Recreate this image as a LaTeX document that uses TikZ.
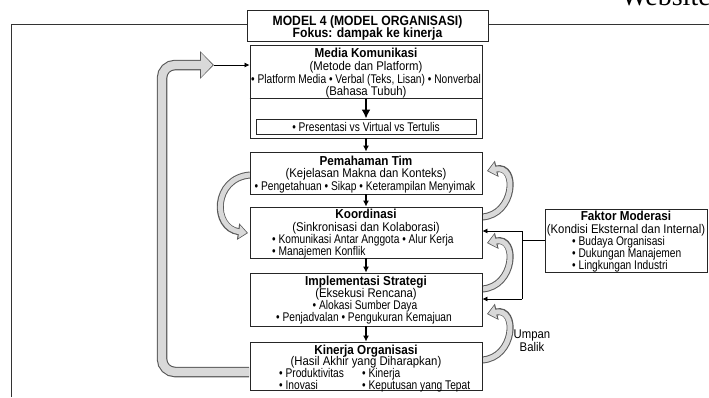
\documentclass[tikz,border=0pt]{standalone}
\usepackage{fontspec}
\setmainfont{Liberation Sans}[FakeStretch=0.9]
\newfontfamily\narrowfont{Liberation Sans}[FakeStretch=0.81]
\newfontfamily\webfont{Liberation Serif}
\usetikzlibrary{arrows.meta}
\newcommand\fsreg{\fontsize{12.6}{12}\selectfont}
\newcommand\fsnar{\narrowfont\fontsize{12.6}{12}\selectfont}
\newcommand\fsbold{\fontsize{13}{12}\selectfont\bfseries}
\newcommand\fstitle{\fontsize{13.5}{12}\selectfont\bfseries}
\tikzset{
  box/.style={draw=black!85, line width=0.9pt, fill=white, inner sep=0pt},
  sepline/.style={draw=black!85, line width=0.9pt},
  frameline/.style={draw=black!80, line width=0.9pt},
  t/.style={inner sep=0pt, text height=9pt, text depth=0pt, font=\fsreg},
  tn/.style={inner sep=0pt, text height=9pt, text depth=0pt, font=\fsnar},
  tb/.style={inner sep=0pt, text height=9pt, text depth=0pt, font=\fsbold},
  tt/.style={inner sep=0pt, text height=9pt, text depth=0pt, font=\fstitle},
  flow/.style={-{Latex[length=6pt,width=6pt]}, line width=1.1pt},
  bigflow/.style={-{Latex[length=9pt,width=9pt]}, line width=1.8pt},
  thinarrow/.style={-{Latex[length=5pt,width=5pt]}, line width=0.7pt},
  conn/.style={line width=0.7pt},
  bandout/.style={draw=black!65, line width=7pt, -{Triangle[width=16pt,length=10pt]}},
  bandin/.style={draw=black!15, line width=5pt, -{Triangle[width=12.5pt,length=7.6pt]}, shorten >=1.3pt},
  bigout/.style={draw=black!65, line width=10.5pt, rounded corners=13pt, -{Triangle[width=27pt,length=14pt]}},
  bigin/.style={draw=black!15, line width=8.3pt, rounded corners=13pt, -{Triangle[width=23.5pt,length=11.5pt]}, shorten >=1.4pt},
}
\newcommand\grayarrow[1]{\draw[bandout] #1; \draw[bandin] #1;}
\begin{document}
\begin{tikzpicture}[x=1pt,y=-1pt]
\useasboundingbox (0,0) rectangle (709,397);
\fill[white] (0,0) rectangle (709,397);

\node[anchor=base west, inner sep=0pt, font=\webfont\fontsize{28}{28}\selectfont] (web) at (621,5) {Website};

% outer frame
\draw[frameline] (11,397) -- (11,24) -- (709,24);

% big feedback arrow (drawn before boxes)
\draw[bigout] (249,372) -| (162,65) -- (214,65);
\draw[bigin] (249,372) -| (162,65) -- (214,65);

% curved gray arrows
\grayarrow{(482,217) .. controls (515,215) and (518,164) .. (487,171)}
\grayarrow{(482,289) .. controls (515,287) and (518,236) .. (487,243)}
\grayarrow{(482,360) .. controls (515,358) and (518,307) .. (487,314)}
\grayarrow{(250,175) .. controls (213,178) and (212,228) .. (248,233)}

% boxes
\node[box, minimum width=241pt, minimum height=31pt] (title) at (367.5,25.5) {};
\node[box, minimum width=232pt, minimum height=93pt] (med) at (366,91.5) {};
\draw[sepline] ([yshift=-54pt]med.north west) -- ([yshift=-54pt]med.north east);
\node[box, minimum width=220pt, minimum height=15pt] (inner) at (366,126.5) {};
\node[box, minimum width=232pt, minimum height=42pt] (pem) at (366,173) {};
\node[box, minimum width=232pt, minimum height=51pt] (koor) at (366,232.5) {};
\node[box, minimum width=232pt, minimum height=53pt] (impl) at (366,299.5) {};
\node[box, minimum width=232pt, minimum height=48pt] (kin) at (366,366) {};
\node[box, minimum width=162pt, minimum height=63pt] (fak) at (626,240.5) {};

% flow arrows
\draw[bigflow] ([yshift=-54pt]med.north) -- (inner.north);
\draw[flow] (med.south) -- (pem.north);
\draw[flow] (pem.south) -- (koor.north);
\draw[flow] (koor.south) -- (impl.north);
\draw[flow] (impl.south) -- (kin.north);

% thin arrow from big feedback arrow into media box
\coordinate (bt) at (214,65);
\draw[thinarrow] (bt) -- (bt -| med.west);

% moderation connectors
\coordinate (ja) at (522,231);
\coordinate (jb) at (522,299);
\draw[conn] (ja) -- (jb);
\draw[conn] (fak.west) -- (fak.west -| ja);
\draw[thinarrow] (ja) -- (ja -| koor.east);
\draw[thinarrow] (jb) -- (jb -| impl.east);

% texts
\node[tt] (t1) at (367.5,21) {MODEL 4 (MODEL ORGANISASI)};
\node[tt] (t2) at (367.5,33) {Fokus: dampak ke kinerja};

\node[tb] (m1) at (366,53) {Media Komunikasi};
\node[t] (m2) at (366,65.5) {(Metode dan Platform)};
\node[tn] (m3) at (366,78.5) {• Platform Media • Verbal (Teks, Lisan) • Nonverbal};
\node[t] (m4) at (366,90.5) {(Bahasa Tubuh)};
\node[tn] (m5) at (366,127) {• Presentasi vs Virtual vs Tertulis};

\node[tb] (p1) at (366,160.5) {Pemahaman Tim};
\node[t] (p2) at (366,173) {(Kejelasan Makna dan Konteks)};
\node[tn] (p3) at (365,186) {• Pengetahuan • Sikap • Keterampilan Menyimak};

\node[tb] (k1) at (366,214) {Koordinasi};
\node[t] (k2) at (366,226.5) {(Sinkronisasi dan Kolaborasi)};
\node[tn, anchor=west] (k3) at (272,239) {• Komunikasi Antar Anggota • Alur Kerja};
\node[tn, anchor=west] (k4) at (272,251) {• Manajemen Konflik};

\node[tb] (i1) at (366,281) {Implementasi Strategi};
\node[t] (i2) at (366,293) {(Eksekusi Rencana)};
\node[tn] (i3) at (365,305) {• Alokasi Sumber Daya};
\node[tn] (i4) at (364,317) {• Penjadvalan • Pengukuran Kemajuan};

\node[tb] (n1) at (366,349.5) {Kinerja Organisasi};
\node[t] (n2) at (366,361) {(Hasil Akhir yang Diharapkan)};
\node[tn, anchor=west] (n3) at (279,373) {• Produktivitas};
\node[tn, anchor=west] (n4) at (362,373) {• Kinerja};
\node[tn, anchor=west] (n5) at (279,384.5) {• Inovasi};
\node[tn, anchor=west] (n6) at (362,384.5) {• Keputusan yang Tepat};

\node[tb] (f1) at (626,216) {Faktor Moderasi};
\node[t] (f2) at (626,228.5) {(Kondisi Eksternal dan Internal)};
\node[tn, anchor=west] (f3) at (572,241) {• Budaya Organisasi};
\node[tn, anchor=west] (f4) at (572,253) {• Dukungan Manajemen};
\node[tn, anchor=west] (f5) at (572,265) {• Lingkungan Industri};

\node[t] (u1) at (532,334) {Umpan};
\node[t] (u2) at (532,347) {Balik};
\end{tikzpicture}
\end{document}
